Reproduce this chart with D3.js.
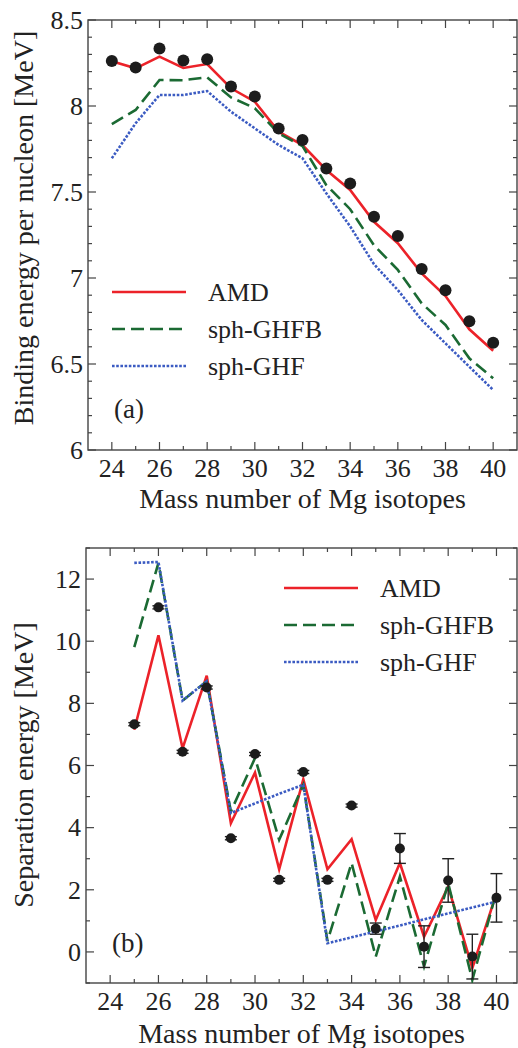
<!DOCTYPE html>
<html>
<head>
<meta charset="utf-8">
<script src="https://cdnjs.cloudflare.com/ajax/libs/d3/7.8.5/d3.min.js"></script>
<style>
  body { margin: 0; background: #fff; }
  text { font-family: "Liberation Serif", "Times New Roman", serif; fill: #222; }
</style>
</head>
<body>
<div class="chart"></div>
<script>
// data
var massA = [24, 25, 26, 27, 28, 29, 30, 31, 32, 33, 34, 35, 36, 37, 38, 39, 40];
var expBE = [8.261, 8.224, 8.334, 8.264, 8.272, 8.113, 8.055, 7.869, 7.803, 7.636, 7.550, 7.356, 7.244, 7.052, 6.929, 6.748, 6.624];
var amdBE = [8.260, 8.219, 8.287, 8.221, 8.244, 8.103, 8.025, 7.851, 7.773, 7.628, 7.512, 7.327, 7.202, 7.027, 6.895, 6.702, 6.577];
var ghfbBE = [7.895, 7.977, 8.151, 8.150, 8.167, 8.050, 7.987, 7.841, 7.767, 7.540, 7.400, 7.190, 7.047, 6.853, 6.727, 6.533, 6.417];
var ghfBE = [7.696, 7.900, 8.064, 8.064, 8.087, 7.967, 7.870, 7.773, 7.696, 7.492, 7.300, 7.080, 6.930, 6.756, 6.620, 6.484, 6.349];

var massB = [25, 26, 27, 28, 29, 30, 31, 32, 33, 34, 35, 36, 37, 38, 39, 40];
var expS = [7.33, 11.09, 6.44, 8.51, 3.66, 6.37, 2.32, 5.79, 2.32, 4.71, 0.75, 3.33, 0.17, 2.30, -0.15, 1.74];
var expErr = [0.05, 0.05, 0.05, 0.05, 0.05, 0.05, 0.05, 0.05, 0.05, 0.05, 0.18, 0.48, 0.67, 0.70, 0.72, 0.78];
var amdS = [7.15, 10.19, 6.55, 8.89, 4.14, 5.77, 2.66, 5.56, 2.66, 3.63, 1.03, 2.86, 0.49, 2.10, -0.52, 1.89];
var ghfbS = [9.81, 12.52, 8.09, 8.71, 4.52, 6.24, 3.61, 5.38, 0.35, 2.86, -0.15, 2.43, -0.47, 2.21, -0.90, 1.94];
var ghfS = [12.52, 12.55, 8.09, 8.71, 4.47, 4.78, 5.09, 5.38, 0.28, 0.47, 0.66, 0.85, 1.05, 1.24, 1.43, 1.62];

var xTicks = [24, 26, 28, 30, 32, 34, 36, 38, 40];
var yTicksA = [6, 6.5, 7, 7.5, 8, 8.5];
var yTicksB = [0, 2, 4, 6, 8, 10, 12];
var seriesNames = ["AMD", "sph-GHFB", "sph-GHF"];

var svgWidth = 518;
var svgHeight = 1048;

var styles = [
  { color: "#ec2229", dash: null },
  { color: "#1b6a33", dash: "13,6" },
  { color: "#3b5bc2", dash: "2.6,1.6" }
];
var axisColor = "#444";

var svg = d3.select(".chart")
  .append("svg")
  .attr("width", svgWidth)
  .attr("height", svgHeight);

// draws frame with inward ticks on all four sides
function drawFrame(g, x, y, xMinor, yMinor, yLabels, majorLen, minorLen) {
  var x0 = x.range()[0], x1 = x.range()[1];
  var y0 = y.range()[0], y1 = y.range()[1];

  g.append("rect")
    .attr("x", x0).attr("y", y1)
    .attr("width", x1 - x0).attr("height", y0 - y1)
    .attr("fill", "none")
    .attr("stroke", axisColor)
    .attr("stroke-width", 1.4);

  var ticks = g.append("g")
    .attr("stroke", axisColor)
    .attr("stroke-width", 1.2);

  xMinor.forEach(function(v) {
    var len = xTicks.indexOf(v) >= 0 ? majorLen : minorLen;
    ticks.append("line").attr("x1", x(v)).attr("x2", x(v)).attr("y1", y0).attr("y2", y0 - len);
    ticks.append("line").attr("x1", x(v)).attr("x2", x(v)).attr("y1", y1).attr("y2", y1 + len);
  });
  yMinor.forEach(function(v) {
    var isMajor = yLabels.some(function(t) { return Math.abs(t - v) < 1e-6; });
    var len = isMajor ? majorLen : minorLen;
    ticks.append("line").attr("y1", y(v)).attr("y2", y(v)).attr("x1", x0).attr("x2", x0 + len);
    ticks.append("line").attr("y1", y(v)).attr("y2", y(v)).attr("x1", x1).attr("x2", x1 - len);
  });

  // tick labels
  g.selectAll(".xlab")
    .data(xTicks)
    .enter()
    .append("text")
    .attr("x", d => x(d))
    .attr("y", y0 + 27)
    .attr("text-anchor", "middle")
    .style("font-size", "26px")
    .text(d => d);

  g.selectAll(".ylab")
    .data(yLabels)
    .enter()
    .append("text")
    .attr("x", x0 - 5)
    .attr("y", d => y(d))
    .attr("dy", "0.34em")
    .attr("text-anchor", "end")
    .style("font-size", "26px")
    .text(d => d);
}

function drawLegend(g, lx, ly, gap) {
  seriesNames.forEach(function(name, i) {
    g.append("line")
      .attr("x1", lx).attr("x2", lx + 74)
      .attr("y1", ly + i * gap).attr("y2", ly + i * gap)
      .attr("stroke", styles[i].color)
      .attr("stroke-width", 2.6)
      .attr("stroke-dasharray", styles[i].dash);
    g.append("text")
      .attr("x", lx + 96)
      .attr("y", ly + i * gap)
      .attr("dy", "0.33em")
      .style("font-size", "26px")
      .text(name);
  });
}

// ---------- panel (a) ----------
var xA = d3.scaleLinear().domain([23, 41]).range([88, 517]);
var yA = d3.scaleLinear().domain([6, 8.5]).range([450, 20]);

var gA = svg.append("g");
drawFrame(gA, xA, yA, d3.range(24, 41, 1), d3.range(60, 86, 1).map(d => d / 10), yTicksA, 8, 4);

var lineA = d3.line()
  .x(d => xA(d[0]))
  .y(d => yA(d[1]));

[amdBE, ghfbBE, ghfBE].forEach(function(vals, i) {
  gA.append("path")
    .datum(massA.map((m, k) => [m, vals[k]]))
    .attr("d", lineA)
    .attr("fill", "none")
    .attr("stroke", styles[i].color)
    .attr("stroke-width", 2.6)
    .attr("stroke-dasharray", styles[i].dash);
});

gA.selectAll("circle")
  .data(massA)
  .enter()
  .append("circle")
  .attr("cx", d => xA(d))
  .attr("cy", (d, k) => yA(expBE[k]))
  .attr("r", 6)
  .attr("fill", "#1c1c1c");

drawLegend(gA, 112, 292, 37);

gA.append("text")
  .attr("x", 114).attr("y", 418)
  .style("font-size", "27px")
  .text("(a)");

gA.append("text")
  .attr("x", (88 + 517) / 2).attr("y", 508)
  .attr("text-anchor", "middle")
  .style("font-size", "28px")
  .text("Mass number of Mg isotopes");

gA.append("text")
  .attr("transform", "translate(33," + 228 + ") rotate(-90)")
  .attr("text-anchor", "middle")
  .style("font-size", "28px")
  .text("Binding energy per nucleon [MeV]");

// ---------- panel (b) ----------
var xB = d3.scaleLinear().domain([23, 40.85]).range([86, 517]);
var yB = d3.scaleLinear().domain([-1, 13]).range([983, 548]);

var gB = svg.append("g");
drawFrame(gB, xB, yB, d3.range(24, 41, 1), d3.range(-1, 14, 1), yTicksB, 8, 4);

var clip = svg.append("defs").append("clipPath").attr("id", "clipB")
  .append("rect")
  .attr("x", 86).attr("y", 548)
  .attr("width", 431).attr("height", 435);

var lineB = d3.line()
  .x(d => xB(d[0]))
  .y(d => yB(d[1]));

var plotB = gB.append("g").attr("clip-path", "url(#clipB)");

[amdS, ghfbS, ghfS].forEach(function(vals, i) {
  plotB.append("path")
    .datum(massB.map((m, k) => [m, vals[k]]))
    .attr("d", lineB)
    .attr("fill", "none")
    .attr("stroke", styles[i].color)
    .attr("stroke-width", 2.6)
    .attr("stroke-dasharray", styles[i].dash);
});

// error bars
var errG = plotB.append("g")
  .attr("stroke", "#222")
  .attr("stroke-width", 1.4);

massB.forEach(function(m, k) {
  var cx = xB(m);
  var top = yB(expS[k] + expErr[k]);
  var bot = yB(expS[k] - expErr[k]);
  errG.append("line").attr("x1", cx).attr("x2", cx).attr("y1", top).attr("y2", bot);
  errG.append("line").attr("x1", cx - 6).attr("x2", cx + 6).attr("y1", top).attr("y2", top);
  errG.append("line").attr("x1", cx - 6).attr("x2", cx + 6).attr("y1", bot).attr("y2", bot);
});

plotB.selectAll("circle")
  .data(massB)
  .enter()
  .append("circle")
  .attr("cx", d => xB(d))
  .attr("cy", (d, k) => yB(expS[k]))
  .attr("r", 5)
  .attr("fill", "#1c1c1c");

drawLegend(gB, 284, 588, 37);

gB.append("text")
  .attr("x", 112).attr("y", 952)
  .style("font-size", "27px")
  .text("(b)");

gB.append("text")
  .attr("x", (86 + 517) / 2).attr("y", 1043)
  .attr("text-anchor", "middle")
  .style("font-size", "28px")
  .text("Mass number of Mg isotopes");

gB.append("text")
  .attr("transform", "translate(33," + 765 + ") rotate(-90)")
  .attr("text-anchor", "middle")
  .style("font-size", "28px")
  .text("Separation energy [MeV]");
</script>
</body>
</html>
